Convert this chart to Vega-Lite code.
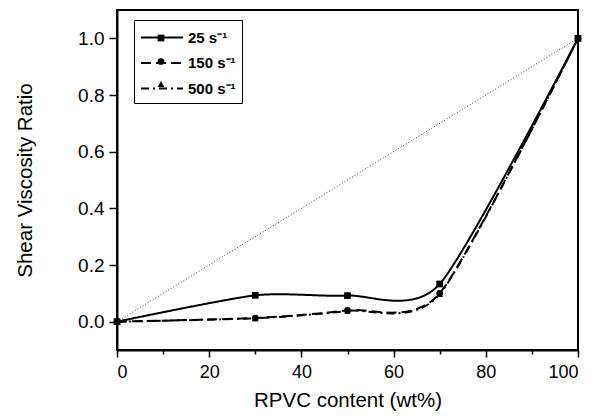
{
  "$schema": "https://vega.github.io/schema/vega-lite/v6.json",
  "width": 461,
  "height": 340,
  "autosize": {"type": "none"},
  "padding": {"left": 117, "top": 10, "right": 34, "bottom": 66},
  "background": "white",
  "config": {
    "font": "Liberation Sans",
    "view": {"stroke": "black", "strokeWidth": 2},
    "axis": {"domainColor": "black", "domainWidth": 2, "tickColor": "black", "tickWidth": 1.5, "grid": false, "labelColor": "black", "titleColor": "black", "titleFontWeight": "normal", "labelFont": "Liberation Sans", "titleFont": "Liberation Sans"}
  },
  "datasets": {
    "curves": [
      {"x": 0, "y": 0, "rate": "25 s⁻¹", "marker": "square"},
      {"x": 30, "y": 0.093, "rate": "25 s⁻¹", "marker": "square"},
      {"x": 50, "y": 0.092, "rate": "25 s⁻¹", "marker": "square"},
      {"x": 70, "y": 0.133, "rate": "25 s⁻¹", "marker": "square"},
      {"x": 100, "y": 1.0, "rate": "25 s⁻¹", "marker": "square"},
      {"x": 0, "y": 0, "rate": "150 s⁻¹", "marker": "circle"},
      {"x": 30, "y": 0.013, "rate": "150 s⁻¹", "marker": "circle"},
      {"x": 50, "y": 0.04, "rate": "150 s⁻¹", "marker": "circle"},
      {"x": 70, "y": 0.1, "rate": "150 s⁻¹", "marker": "circle"},
      {"x": 100, "y": 1.0, "rate": "150 s⁻¹", "marker": "circle"},
      {"x": 0, "y": 0, "rate": "500 s⁻¹", "marker": "triangle"},
      {"x": 30, "y": 0.012, "rate": "500 s⁻¹", "marker": "triangle"},
      {"x": 50, "y": 0.038, "rate": "500 s⁻¹", "marker": "triangle"},
      {"x": 70, "y": 0.097, "rate": "500 s⁻¹", "marker": "triangle"},
      {"x": 100, "y": 1.0, "rate": "500 s⁻¹", "marker": "triangle"}
    ],
    "diag": [
      {"x": 0, "y": 0},
      {"x": 100, "y": 1}
    ]
  },
  "layer": [
    {
      "data": {"name": "diag"},
      "mark": {"type": "line", "color": "black", "strokeWidth": 0.8, "strokeDash": [1, 2]},
      "encoding": {
        "x": {"field": "x", "type": "quantitative"},
        "y": {"field": "y", "type": "quantitative"}
      }
    },
    {
      "data": {"name": "curves"},
      "mark": {"type": "line", "color": "black", "strokeWidth": 2, "interpolate": "cardinal", "tension": 0.3},
      "encoding": {
        "x": {"field": "x", "type": "quantitative", "scale": {"domain": [0, 100], "nice": false}, "title": "RPVC content (wt%)",
          "axis": {"values": [0, 10, 20, 30, 40, 50, 60, 70, 80, 90, 100], "labelExpr": "datum.value % 20 === 0 ? datum.label : ''", "labelFontSize": 18, "titleFontSize": 20.5, "labelPadding": 6, "tickSize": {"condition": {"test": "datum.value % 20 === 0", "value": 7}, "value": 4}, "titlePadding": 9}},
        "y": {"field": "y", "type": "quantitative", "scale": {"domain": [-0.1, 1.1], "nice": false}, "title": "Shear Viscosity Ratio",
          "axis": {"values": [0, 0.2, 0.4, 0.6, 0.8, 1.0], "format": ".1f", "labelFontSize": 19, "titleFontSize": 20.5, "labelPadding": 5, "tickSize": 8, "titlePadding": 42}},
        "strokeDash": {"field": "rate", "type": "nominal", "sort": ["25 s⁻¹", "150 s⁻¹", "500 s⁻¹"],
          "scale": {"domain": ["25 s⁻¹", "150 s⁻¹", "500 s⁻¹"], "range": [[1, 0], [10, 5], [8, 4, 2, 4]]},
          "legend": {"title": null, "orient": "none", "legendX": 17, "legendY": 10, "strokeColor": "black", "fillColor": "white", "padding": 6, "labelFontSize": 15, "labelFont": "Liberation Sans", "labelFontWeight": "bold", "labelColor": "black", "labelOffset": 25, "symbolSize": 441, "symbolType": "M-1,0H3", "symbolStrokeColor": "black", "rowPadding": 5.5, "symbolStrokeWidth": 2}}
      }
    },
    {
      "data": {"name": "curves"},
      "mark": {"type": "point", "filled": true, "color": "black", "size": 45, "opacity": 1},
      "encoding": {
        "x": {"field": "x", "type": "quantitative"},
        "y": {"field": "y", "type": "quantitative"},
        "shape": {"field": "marker", "type": "nominal",
          "scale": {"domain": ["square", "circle", "triangle"], "range": ["square", "circle", "triangle-up"]},
          "legend": {"title": null, "orient": "none", "legendX": 33, "legendY": 17, "padding": 6, "labelExpr": "''", "symbolSize": 45, "symbolFillColor": "black", "symbolStrokeColor": "black", "symbolOpacity": 1, "rowPadding": 9.5}}
      }
    }
  ]
}
